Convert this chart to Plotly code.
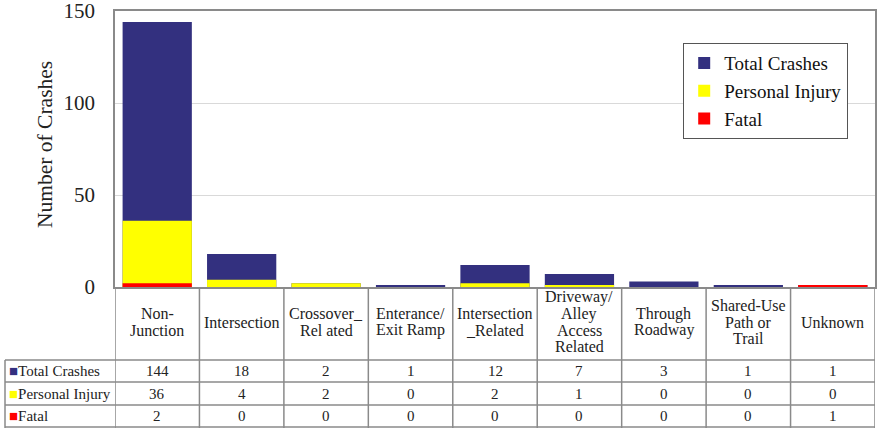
import plotly.graph_objects as go

categories = ["Non-<br>Junction", "Intersection", "Crossover_<br>Rel ated", "Enterance/<br>Exit Ramp",
              "Intersection<br>_Related", "Driveway/<br>Alley<br>Access<br>Related", "Through<br>Roadway",
              "Shared-Use<br>Path or<br>Trail", "Unknown"]
total_crashes = [144, 18, 2, 1, 12, 7, 3, 1, 1]
personal_injury = [36, 4, 2, 0, 2, 1, 0, 0, 0]
fatal = [2, 0, 0, 0, 0, 0, 0, 0, 1]
series_names = ["Total Crashes", "Personal Injury", "Fatal"]
colors = ["#33307F", "#FFFF00", "#FF0000"]
y_ticks = [0, 50, 100, 150]

FONT = "Liberation Serif, Times New Roman, serif"
x_idx = list(range(len(categories)))

fig = go.Figure()
for name, vals, col in zip(series_names, [total_crashes, personal_injury, fatal], colors):
    fig.add_trace(go.Bar(x=x_idx, y=vals, name=name, marker=dict(color=col, line=dict(width=0)),
                         width=0.82))

def py(p):
    return (287 - p) / 276.0

row_lines = [360, 382, 405, 427]
row_centers = [371, 393.5, 416]
grid = "#8a8a8a"
shapes = []
for i in range(len(categories) + 1):
    shapes.append(dict(type="line", xref="x", yref="paper", x0=i - 0.5, x1=i - 0.5,
                       y0=0, y1=py(428), line=dict(color=grid, width=1.5)))
for j, r in enumerate(row_lines):
    shapes.append(dict(type="line", xref="paper", yref="paper", x0=-110 / 760.0, x1=1,
                       y0=py(r), y1=py(r), line=dict(color=grid, width=1.5)))
shapes.append(dict(type="line", xref="paper", yref="paper", x0=-110 / 760.0, x1=-110 / 760.0,
                   y0=py(360), y1=py(428), line=dict(color=grid, width=1.5)))

annotations = []
LINE_PITCH = 16.5
for i, c in enumerate(categories):
    lines = c.split("<br>")
    n = len(lines)
    for k, ln in enumerate(lines):
        yy = 322 + (k - (n - 1) / 2.0) * LINE_PITCH
        annotations.append(dict(x=i, y=py(yy), xref="x", yref="paper", text=ln, showarrow=False,
                                font=dict(family=FONT, size=16, color="#222"), yanchor="middle",
                                xanchor="center", align="center"))
for j, (name, vals, col) in enumerate(zip(series_names, [total_crashes, personal_injury, fatal], colors)):
    annotations.append(dict(x=-108 / 760.0, y=py(row_centers[j]), xref="paper", yref="paper",
                            text=f'<span style="color:{col}">■</span>{name}', showarrow=False,
                            font=dict(family=FONT, size=15, color="#222"), xanchor="left",
                            yanchor="middle"))
    for i, v in enumerate(vals):
        annotations.append(dict(x=i, y=py(row_centers[j]), xref="x", yref="paper", text=str(v),
                                showarrow=False, font=dict(family=FONT, size=15, color="#222"),
                                xanchor="center", yanchor="middle"))

annotations.append(dict(x=-70 / 760.0, y=py(145), xref="paper", yref="paper", text="Number of Crashes",
                        showarrow=False, textangle=-90, font=dict(family=FONT, size=21.5, color="#222"),
                        xanchor="center", yanchor="middle"))

fig.update_layout(
    width=877, height=428,
    margin=dict(l=115, r=2, t=11, b=141, autoexpand=False),
    barmode="overlay",
    plot_bgcolor="white", paper_bgcolor="white",
    font=dict(family=FONT, color="#222"),
    showlegend=True,
    legend=dict(x=(683 - 115) / 760.0, y=py(43), xanchor="left", yanchor="top",
                bordercolor="#555", borderwidth=1.2, bgcolor="white",
                font=dict(family=FONT, size=19, color="#111"), itemwidth=30,
                entrywidth=135, entrywidthmode="pixels",
                tracegroupgap=0),
    shapes=shapes,
    annotations=annotations,
)
fig.update_xaxes(range=[-0.5, len(categories) - 0.5], showticklabels=False, showgrid=False,
                 showline=True, linecolor=grid, linewidth=1.5, mirror=True, ticks="", zeroline=False,
                 automargin=False)
fig.update_yaxes(range=[0, 150], tickvals=y_ticks, showgrid=True, gridcolor="#d9d9d9", gridwidth=1,
                 showline=True, linecolor=grid, linewidth=1.5, mirror=True, zeroline=False,
                 tickfont=dict(family=FONT, size=21, color="#222"), ticks="", ticklen=0,
                 ticklabelstandoff=14, ticklabeloverflow="allow", automargin=False)

fig.write_html("out.html", config={"displayModeBar": False},
               post_script="document.body.style.margin='0';")
